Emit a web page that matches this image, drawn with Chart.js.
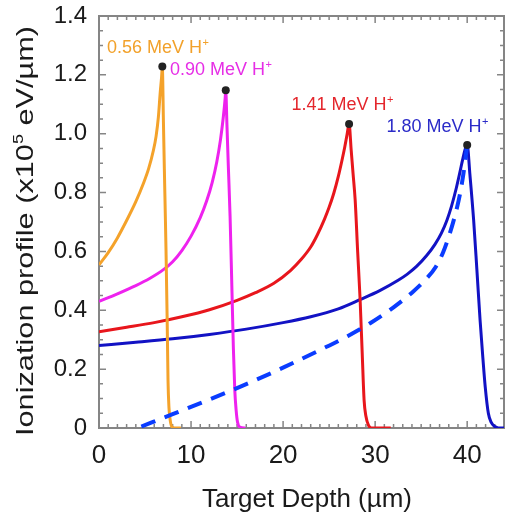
<!DOCTYPE html>
<html><head><meta charset="utf-8">
<script src="https://cdn.jsdelivr.net/npm/chart.js@4.4.1/dist/chart.umd.min.js"></script>
<style>html,body{margin:0;padding:0;background:#fff}#wrap{width:508px;height:517px;position:relative}</style>
</head><body><div id="wrap"><canvas id="c"></canvas></div>
<script>
// ---- axes ----
const xTicks = [0, 10, 20, 30, 40];
const yTicks = [0, 0.2, 0.4, 0.6, 0.8, 1.0, 1.2, 1.4];
const xRange = [0, 44];
const yRange = [0, 1.4];
const xMinorStep = 1;
const yMinorStep = 0.05;

// ---- series ----
const x056 = [0, 1, 2, 3, 4, 4.8, 5.4, 5.9, 6.2, 6.45, 6.65, 6.8, 6.88, 7.0, 7.1, 7.2, 7.28, 7.4, 7.5, 7.6, 7.72, 7.9, 8.2, 8.9];
const y056 = [0.554, 0.596, 0.646, 0.705, 0.769, 0.829, 0.882, 0.942, 0.991, 1.056, 1.14, 1.192, 1.228, 1.04, 0.88, 0.73, 0.605, 0.38, 0.16, 0.07, 0.03, 0.005, 0, 0];

const x090 = [0, 2, 4, 5.5, 7, 8, 9, 10, 11, 11.7, 12.3, 12.8, 13.2, 13.5, 13.7, 13.77, 13.9, 14.05, 14.24, 14.45, 14.6, 14.75, 14.9, 15.05, 15.3, 15.9];
const y090 = [0.43, 0.456, 0.484, 0.508, 0.538, 0.565, 0.603, 0.652, 0.715, 0.772, 0.835, 0.905, 0.98, 1.055, 1.118, 1.148, 1.03, 0.89, 0.72, 0.46, 0.27, 0.13, 0.06, 0.02, 0.003, 0];

const x141 = [0, 3, 6, 9, 12, 15, 17, 19, 20.8, 22, 23, 23.7, 24.5, 25.0, 25.5, 26.0, 26.4, 26.7, 26.95, 27.17, 27.4, 27.6, 27.83, 28.1, 28.37, 28.6, 28.8, 29.0, 29.27, 29.6, 31.7];
const y141 = [0.327, 0.342, 0.358, 0.378, 0.402, 0.434, 0.46, 0.492, 0.535, 0.574, 0.615, 0.655, 0.71, 0.75, 0.797, 0.855, 0.91, 0.955, 0.997, 1.033, 0.943, 0.865, 0.775, 0.6, 0.435, 0.25, 0.095, 0.04, 0.01, 0, 0];

const x180 = [0, 4, 8, 12, 16, 20, 23, 26, 28.4, 30.5, 32.5, 33.5, 34.5, 35.6, 36.5, 37.2, 37.8, 38.3, 38.8, 39.2, 39.55, 39.8, 40.0, 40.3, 40.7, 41.05, 41.4, 41.7, 41.96, 42.3, 42.6, 43.0, 43.4, 44];
const y180 = [0.28, 0.291, 0.303, 0.318, 0.336, 0.358, 0.378, 0.405, 0.437, 0.467, 0.502, 0.523, 0.549, 0.586, 0.624, 0.662, 0.706, 0.754, 0.813, 0.868, 0.918, 0.949, 0.962, 0.86, 0.707, 0.54, 0.367, 0.24, 0.14, 0.05, 0.02, 0.005, 0, 0];

const xDash = [4.6, 8, 12, 16, 20, 24, 27, 29.5, 32, 34, 35.5, 36.6, 37.4, 38.1, 38.7, 39.2, 39.6, 40.0];
const yDash = [0.005, 0.047, 0.097, 0.149, 0.205, 0.265, 0.312, 0.357, 0.41, 0.46, 0.505, 0.548, 0.598, 0.66, 0.725, 0.792, 0.866, 0.962];

const peakX = [6.88, 13.77, 27.17, 40.0];
const peakY = [1.228, 1.148, 1.033, 0.962];

const labelText = ['0.56 MeV H', '0.90 MeV H', '1.41 MeV H', '1.80 MeV H'];
const labelX = [0.87, 7.72, 20.9, 31.23];
const labelY = [1.274, 1.2, 1.08, 1.006];
const labelColor = ['#F2A12A', '#E62EE6', '#E4262C', '#2B2BC8'];

const xTitle = 'Target Depth (\u00b5m)';
const yTitleParts = ['Ionization profile (x10', '5', ' eV/\u00b5m)'];

const FONT = '"Liberation Sans", Arial, sans-serif';
const pts = (xs, ys) => xs.map((v, i) => ({x: v, y: ys[i]}));

const lineDs = (xs, ys, color, extra) => Object.assign({
  data: pts(xs, ys), showLine: true, borderColor: color, backgroundColor: color,
  borderWidth: 3, pointRadius: 0, cubicInterpolationMode: 'monotone', fill: false, order: 2
}, extra || {});

const decor = {
  id: 'decor',
  beforeDatasetsDraw(chart) {
    const {ctx, chartArea: a, scales: {x, y}} = chart;
    ctx.save();
    ctx.strokeStyle = '#858585';
    ctx.lineWidth = 1.5;
    ctx.beginPath();
    const nx = Math.round((xRange[1] - xRange[0]) / xMinorStep);
    for (let i = 0; i <= nx; i++) {
      const v = xRange[0] + i * xMinorStep;
      const px = x.getPixelForValue(v);
      const L = xTicks.includes(v) ? 7 : 4;
      ctx.moveTo(px, a.bottom); ctx.lineTo(px, a.bottom - L);
      ctx.moveTo(px, a.top); ctx.lineTo(px, a.top + L);
    }
    const ny = Math.round((yRange[1] - yRange[0]) / yMinorStep);
    for (let i = 0; i <= ny; i++) {
      const v = yRange[0] + i * yMinorStep;
      const py = y.getPixelForValue(v);
      const L = (i % 4 === 0) ? 7 : 4;
      ctx.moveTo(a.left, py); ctx.lineTo(a.left + L, py);
      ctx.moveTo(a.right, py); ctx.lineTo(a.right - L, py);
    }
    ctx.stroke();
    ctx.lineWidth = 2;
    ctx.strokeRect(a.left, a.top, a.right - a.left, a.bottom - a.top);
    ctx.restore();
  },
  afterDraw(chart) {
    const {ctx, scales: {x, y}} = chart;
    ctx.save();
    for (let i = 0; i < labelText.length; i++) {
      const px = x.getPixelForValue(labelX[i]);
      const py = y.getPixelForValue(labelY[i]);
      ctx.fillStyle = labelColor[i];
      ctx.font = '18px ' + FONT;
      ctx.textAlign = 'left'; ctx.textBaseline = 'alphabetic';
      ctx.fillText(labelText[i], px, py);
      const w = ctx.measureText(labelText[i]).width;
      ctx.font = '11px ' + FONT;
      ctx.fillText('+', px + w + 0.5, py - 7);
    }
    ctx.fillStyle = '#1a1a1a';
    ctx.font = '26px ' + FONT;
    ctx.textAlign = 'center'; ctx.textBaseline = 'alphabetic';
    ctx.fillText(xTitle, 307, 507);
    ctx.translate(33, 231);
    ctx.rotate(-Math.PI / 2);
    const big = '24px ' + FONT, small = '14px ' + FONT;
    ctx.font = big; const w0 = ctx.measureText(yTitleParts[0]).width;
    ctx.font = small; const w1 = ctx.measureText(yTitleParts[1]).width;
    ctx.font = big; const w2 = ctx.measureText(yTitleParts[2]).width;
    const tot = w0 + w1 + w2;
    ctx.scale(410 / tot, 1);
    ctx.textAlign = 'left';
    let cx = -tot / 2;
    ctx.font = big; ctx.fillText(yTitleParts[0], cx, 0); cx += w0;
    ctx.font = small; ctx.fillText(yTitleParts[1], cx, -10); cx += w1;
    ctx.font = big; ctx.fillText(yTitleParts[2], cx, 0);
    ctx.restore();
  }
};

const noPad = s => { s.paddingTop = 0; s.paddingBottom = 0; s.paddingLeft = 0; s.paddingRight = 0; };

new Chart(document.getElementById('c'), {
  type: 'scatter',
  data: {
    datasets: [
      {data: pts(peakX, peakY), pointRadius: 4, pointBackgroundColor: '#222', pointBorderWidth: 0, showLine: false, order: 0},
      lineDs(xDash, yDash, '#0A3CFF', {borderWidth: 4, borderDash: [15, 10], order: 1}),
      lineDs(x056, y056, '#F4A22A'),
      lineDs(x090, y090, '#EE22EE'),
      lineDs(x141, y141, '#E8161C'),
      lineDs(x180, y180, '#1212C4')
    ]
  },
  options: {
    responsive: true, maintainAspectRatio: false, animation: false,
    layout: {padding: {left: 0, right: 4, top: 16, bottom: 0}},
    plugins: {legend: {display: false}, tooltip: {enabled: false}},
    scales: {
      x: {
        type: 'linear', min: xRange[0], max: xRange[1],
        grid: {display: false, drawTicks: false}, border: {display: false},
        afterBuildTicks: s => { s.ticks = xTicks.map(v => ({value: v})); },
        afterFit: s => { s.height = 89; noPad(s); },
        ticks: {padding: 12, color: '#1a1a1a', font: {family: FONT, size: 26}, maxRotation: 0, callback: v => String(v)}
      },
      y: {
        type: 'linear', min: yRange[0], max: yRange[1],
        grid: {display: false, drawTicks: false}, border: {display: false},
        afterBuildTicks: s => { s.ticks = yTicks.map(v => ({value: v})); },
        afterFit: s => { s.width = 99; noPad(s); },
        ticks: {padding: 12, color: '#1a1a1a', font: {family: FONT, size: 24}, callback: v => v === 0 ? '0' : v.toFixed(1)}
      }
    }
  },
  plugins: [decor]
});
</script></body></html>
